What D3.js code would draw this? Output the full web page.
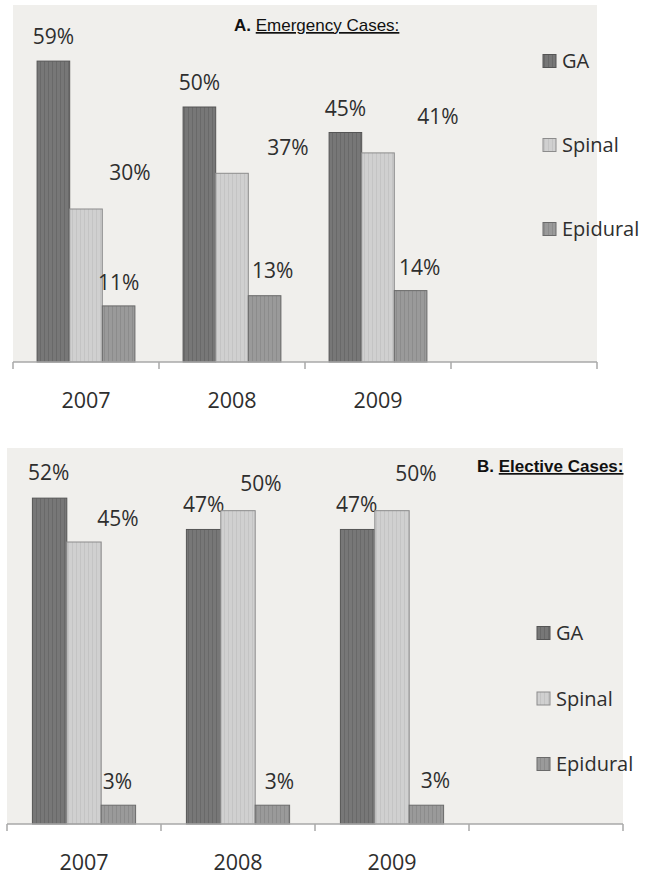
<!DOCTYPE html>
<html>
<head>
<meta charset="utf-8">
<script src="https://cdn.jsdelivr.net/npm/d3@7"></script>
<style>
  body { margin: 0; background: #fff; }
  text { font-family: "Open Sans", sans-serif; fill: #2e2e2e; }
  .title { font-family: Arial, "Liberation Sans", sans-serif; fill: #111; }
</style>
</head>
<body>
<div id="viz"></div>
<script>
var years = ["2007", "2008", "2009"];
var series = ["GA", "Spinal", "Epidural"];

// percentages, one array per series
var emergencyGA = [59, 50, 45];
var emergencySpinal = [30, 37, 41];
var emergencyEpidural = [11, 13, 14];

var electiveGA = [52, 47, 47];
var electiveSpinal = [45, 50, 50];
var electiveEpidural = [3, 3, 3];

// label nudges (dx, dy from the bar top), copied off the original layout
var nudgeA = [[[0, -24], [0, -24], [0, -24]],
              [[44, -36], [56, -26], [60, -36]],
              [[0, -23], [8, -25], [9, -23]]];
var nudgeB = [[[-1, -25], [0, -25], [-1, -25]],
              [[34, -23], [23, -27], [24, -37]],
              [[-1, -24], [7, -24], [9, -25]]];

var fills = { "GA": "url(#pat-ga)", "Spinal": "url(#pat-sp)", "Epidural": "url(#pat-ep)" };
var strokes = { "GA": "#555", "Spinal": "#8c8c8c", "Epidural": "#6a6a6a" };

var width = 652, height = 876;
var svg = d3.select("#viz").append("svg").attr("width", width).attr("height", height);

// striped fills like the old excel bars
var defs = svg.append("defs");
function stripes(id, base, line) {
  var p = defs.append("pattern")
      .attr("id", id)
      .attr("patternUnits", "userSpaceOnUse")
      .attr("width", 4)
      .attr("height", 4);
  p.append("rect").attr("width", 4).attr("height", 4).attr("fill", base);
  p.append("rect").attr("width", 1).attr("height", 4).attr("fill", line);
}
stripes("pat-ga", "#777", "#696969");
stripes("pat-sp", "#d0d0d0", "#c4c4c4");
stripes("pat-ep", "#9a9a9a", "#8c8c8c");

function drawPanel(cfg) {
  var g = svg.append("g");
  var values = [cfg.ga, cfg.spinal, cfg.epidural];

  var x = d3.scaleBand()
      .domain(years.concat([""]))
      .range([cfg.left, cfg.right]);

  var bw = x.bandwidth();
  var inner = d3.scaleBand()
      .domain(series)
      .range([bw * 0.165, bw * 0.835]);

  var y = d3.scaleLinear()
      .domain([0, cfg.max])
      .range([cfg.bottom, cfg.top]);

  // plot background
  g.append("rect")
      .attr("x", cfg.left)
      .attr("y", cfg.top)
      .attr("width", cfg.right - cfg.left)
      .attr("height", cfg.bottom - cfg.top)
      .attr("fill", "#f0efec");

  series.forEach(function(s, si) {
    years.forEach(function(yr, i) {
      var v = values[si][i];
      var bx = x(yr) + inner(s);
      g.append("rect")
          .attr("x", bx)
          .attr("y", y(v))
          .attr("width", inner.bandwidth())
          .attr("height", y(0) - y(v))
          .attr("fill", fills[s])
          .attr("stroke", strokes[s])
          .attr("stroke-width", 1);

      var n = cfg.nudge[si][i];
      g.append("text")
          .attr("x", bx + inner.bandwidth() / 2 + n[0])
          .attr("y", y(v) + n[1])
          .attr("dy", "0.35em")
          .attr("text-anchor", "middle")
          .style("font-size", "21px")
          .text(v + "%");
    });
  });

  // category axis, ticks sit on the band edges
  var axis = g.append("g").attr("transform", "translate(0," + cfg.bottom + ")");
  axis.append("line")
      .attr("x1", cfg.left).attr("x2", cfg.right)
      .attr("stroke", "#a9a9a9").attr("stroke-width", 1.5);
  x.domain().concat(["end"]).forEach(function(d, i) {
    var tx = cfg.left + i * x.step();
    axis.append("line")
        .attr("x1", tx).attr("x2", tx)
        .attr("y1", 0).attr("y2", 7)
        .attr("stroke", "#a9a9a9").attr("stroke-width", 1.5);
  });
  axis.selectAll("text.year")
      .data(years)
    .enter().append("text")
      .attr("class", "year")
      .attr("x", function(d) { return x(d) + bw / 2; })
      .attr("y", 38)
      .attr("dy", "0.35em")
      .attr("text-anchor", "middle")
      .style("font-size", "21.5px")
      .text(function(d) { return d; });

  // legend
  var lg = g.append("g");
  series.forEach(function(s, i) {
    var ly = cfg.legendY + i * cfg.legendStep;
    lg.append("rect")
        .attr("x", cfg.legendX)
        .attr("y", ly - 6.5)
        .attr("width", 13)
        .attr("height", 13)
        .attr("fill", fills[s])
        .attr("stroke", strokes[s]);
    lg.append("text")
        .attr("x", cfg.legendX + 19)
        .attr("y", ly)
        .attr("dy", "0.35em")
        .style("font-size", "20px")
        .text(s);
  });

  // title
  var t = g.append("text")
      .attr("class", "title")
      .attr("x", cfg.titleX)
      .attr("y", cfg.titleY)
      .style("font-size", "17px");
  t.append("tspan").style("font-weight", "bold").text(cfg.titleLead + " ");
  t.append("tspan")
      .style("font-weight", cfg.titleBold ? "bold" : "normal")
      .style("text-decoration", "underline")
      .text(cfg.titleText);
}

drawPanel({
  ga: emergencyGA, spinal: emergencySpinal, epidural: emergencyEpidural,
  nudge: nudgeA, max: 70,
  left: 13, right: 597, top: 5, bottom: 362,
  legendX: 543, legendY: 61, legendStep: 84,
  titleX: 234, titleY: 31, titleLead: "A.", titleText: "Emergency Cases:", titleBold: false
});

drawPanel({
  ga: electiveGA, spinal: electiveSpinal, epidural: electiveEpidural,
  nudge: nudgeB, max: 60,
  left: 7, right: 623, top: 448, bottom: 824,
  legendX: 537, legendY: 633, legendStep: 65.5,
  titleX: 477, titleY: 472, titleLead: "B.", titleText: "Elective Cases:", titleBold: true
});
</script>
</body>
</html>
